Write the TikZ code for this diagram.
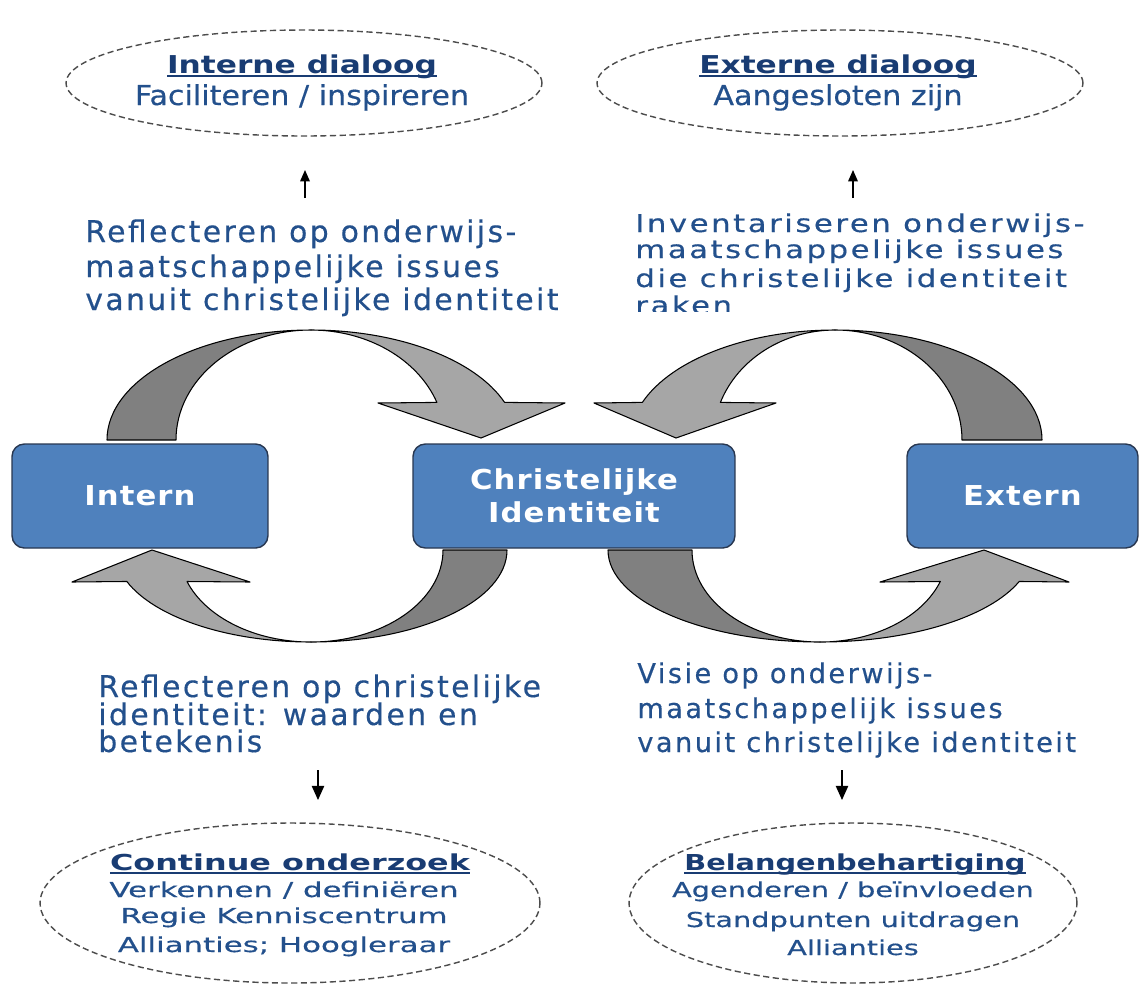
\documentclass[tikz,border=0pt]{standalone}
\usepackage{fontspec}
\setmainfont{DejaVu Sans}
\usetikzlibrary{shapes.geometric,arrows.meta}
\newfontfamily\fMid{DejaVu Sans}[LetterSpace=8,FakeBold=0.4]
\newfontfamily\fMidB{DejaVu Sans}[LetterSpace=9,FakeBold=0.4]
\newfontfamily\fMidC{DejaVu Sans}[FakeStretch=1.25,LetterSpace=10.3,FakeBold=0.4]
\newfontfamily\fTitle{DejaVu Sans}[FakeStretch=1.27]
\newfontfamily\fTitleL{DejaVu Sans}[FakeStretch=1.45]
\newfontfamily\fTitleR{DejaVu Sans}[FakeStretch=1.31]
\newfontfamily\fEll{DejaVu Sans}[FakeStretch=1.1,FakeBold=0.4]
\newfontfamily\fEllL{DejaVu Sans}[FakeStretch=1.5,FakeBold=0.4]
\newfontfamily\fEllR{DejaVu Sans}[FakeStretch=1.4,FakeBold=0.4]
\newfontfamily\fBox{DejaVu Sans}[FakeStretch=1.12,LetterSpace=4]
\definecolor{tblue}{RGB}{35,80,140}
\definecolor{hblue}{RGB}{25,60,115}
\definecolor{boxfill}{RGB}{79,129,189}
\definecolor{boxline}{RGB}{40,55,80}
\definecolor{gdark}{RGB}{128,128,128}
\definecolor{glight}{RGB}{166,166,166}
\newcommand\myul[1]{\setbox0=\hbox{#1}\rlap{\rule[-2pt]{\wd0}{1pt}}\box0}
\begin{document}
\begin{tikzpicture}[x=0.02cm,y=-0.02cm,
  box/.style={draw=boxline,fill=boxfill,rounded corners=7pt,line width=0.8pt,text=white,inner sep=0pt,align=center,
    font={\fBox\bfseries\fontsize{15.6pt}{18.8pt}\selectfont}},
  ell/.style={ellipse,draw=black!70,dash pattern=on 3.5pt off 2pt,line width=0.8pt,inner sep=0pt},
  band/.style={draw=black,line width=0.6pt,line join=round},
  smallarr/.style={-{Triangle[length=6.5pt,width=5.5pt]},line width=0.7pt},
  bigarr/.style={-{Triangle[length=8pt,width=7pt]},line width=0.7pt},
  mid/.style={anchor=base west,inner sep=0pt,text=tblue},
  etxt/.style={anchor=base,inner sep=0pt,text=tblue},
  ttl/.style={anchor=base,inner sep=0pt,text=hblue}]
\useasboundingbox (0,0) rectangle (1140,985);

% ---- ellipses ----
\node[ell,minimum width=9.52cm,minimum height=2.12cm] (eTL) at (304,83) {};
\node[ttl,font={\fTitle\bfseries\fontsize{14pt}{16pt}\selectfont}] (eTLt) at (302,73) {\myul{Interne dialoog}};
\node[etxt,font={\fEll\fontsize{15.6pt}{18pt}\selectfont}] (eTLb) at (302,105) {Faciliteren / inspireren};

\node[ell,minimum width=9.72cm,minimum height=2.12cm] (eTR) at (840,83) {};
\node[ttl,font={\fTitle\bfseries\fontsize{14pt}{16pt}\selectfont}] (eTRt) at (838,73) {\myul{Externe dialoog}};
\node[etxt,font={\fEll\fontsize{15.6pt}{18pt}\selectfont}] (eTRb) at (838,105) {Aangesloten zijn};

\node[ell,minimum width=10cm,minimum height=3.2cm] (eBL) at (290,903) {};
\node[ttl,font={\fTitleL\bfseries\fontsize{12.5pt}{14pt}\selectfont}] (eBLt) at (290,870) {\myul{Continue onderzoek}};
\node[etxt,font={\fEllL\fontsize{11.7pt}{14pt}\selectfont}] (eBL1) at (284,897) {Verkennen / definiëren};
\node[etxt,font={\fEllL\fontsize{11.7pt}{14pt}\selectfont}] (eBL2) at (284,923) {Regie Kenniscentrum};
\node[etxt,font={\fEllL\fontsize{11.7pt}{14pt}\selectfont}] (eBL3) at (284,952) {Allianties; Hoogleraar};

\node[ell,minimum width=8.96cm,minimum height=3.2cm] (eBR) at (853,903) {};
\node[ttl,font={\fTitleR\bfseries\fontsize{12.5pt}{14pt}\selectfont}] (eBRt) at (855,870) {\myul{Belangenbehartiging}};
\node[etxt,font={\fEllR\fontsize{11.7pt}{14pt}\selectfont}] (eBR1) at (853,897) {Agenderen / beïnvloeden};
\node[etxt,font={\fEllR\fontsize{11.7pt}{14pt}\selectfont}] (eBR2) at (853,927) {Standpunten uitdragen};
\node[etxt,font={\fEllR\fontsize{11.7pt}{14pt}\selectfont}] (eBR3) at (853,955) {Allianties};

% ---- small arrows ----
\coordinate (aTL0) at (305,198); \coordinate (aTL1) at (305,170);
\coordinate (aTR0) at (853,198); \coordinate (aTR1) at (853,170);
\coordinate (aBL0) at (318,770); \coordinate (aBL1) at (318,800);
\coordinate (aBR0) at (842,770); \coordinate (aBR1) at (842,800);
\draw[smallarr] (aTL0) -- (aTL1);
\draw[smallarr] (aTR0) -- (aTR1);
\draw[bigarr] (aBL0) -- (aBL1);
\draw[bigarr] (aBR0) -- (aBR1);

% ---- middle texts ----
\begin{scope}[every node/.append style={font={\fMid\fontsize{17pt}{20pt}\selectfont}}]
\node[mid] (mTL1) at (85,242) {Reflecteren op onderwijs-};
\node[mid] (mTL2) at (85,277) {maatschappelijke issues};
\node[mid] (mTL3) at (85,310) {vanuit christelijke identiteit};
\node[mid] (mBL1) at (98,697) {Reflecteren op christelijke};
\node[mid] (mBL2) at (98,725) {identiteit: waarden en};
\node[mid] (mBL3) at (98,752) {betekenis};
\end{scope}
\begin{scope}
\clip (600,190) rectangle (1140,311);
\begin{scope}[every node/.append style={font={\fMidC\fontsize{14pt}{15pt}\selectfont}}]
\node[mid] (mTR1) at (635,232) {Inventariseren onderwijs-};
\node[mid] (mTR2) at (635,258) {maatschappelijke issues};
\node[mid] (mTR3) at (635,287) {die christelijke  identiteit};
\node[mid] (mTR4) at (635,314) {raken};
\end{scope}
\end{scope}
\begin{scope}[every node/.append style={font={\fMidB\fontsize{15.5pt}{17pt}\selectfont}}]
\node[mid] (mBR1) at (637,683) {Visie op onderwijs-};
\node[mid] (mBR2) at (637,718) {maatschappelijk issues};
\node[mid] (mBR3) at (637,752) {vanuit christelijke  identiteit};
\end{scope}

% ---- curved arrows ----
% top left
\fill[gdark,band] (107,440) arc[start angle=180,end angle=270,x radius=204,y radius=110]
  arc[start angle=270,end angle=180,x radius=135,y radius=110] -- cycle;
\fill[glight,band] (311,330) arc[start angle=270,end angle=340,x radius=206,y radius=110]
  -- (565,403) -- (481,438) -- (378,403) -- (436.9,402.4)
  arc[start angle=340,end angle=270,x radius=134,y radius=110] -- cycle;
% bottom left
\fill[gdark,band] (507,550) arc[start angle=0,end angle=90,x radius=196,y radius=92]
  arc[start angle=90,end angle=0,x radius=132,y radius=92] -- cycle;
\fill[glight,band] (311,642) arc[start angle=90,end angle=160,x radius=196,y radius=92]
  -- (72,582) -- (152,550) -- (250,582) -- (187,581.5)
  arc[start angle=160,end angle=90,x radius=132,y radius=92] -- cycle;
% top right
\fill[gdark,band] (1042,440) arc[start angle=360,end angle=270,x radius=207,y radius=110]
  arc[start angle=270,end angle=360,x radius=127,y radius=110] -- cycle;
\fill[glight,band] (835,330) arc[start angle=270,end angle=200,x radius=205,y radius=110]
  -- (594,403) -- (676,438) -- (776,403) -- (720.4,402.4)
  arc[start angle=200,end angle=270,x radius=122,y radius=110] -- cycle;
% bottom right
\fill[gdark,band] (608,550) arc[start angle=180,end angle=90,x radius=212,y radius=92]
  arc[start angle=90,end angle=180,x radius=128,y radius=92] -- cycle;
\fill[glight,band] (820,642) arc[start angle=90,end angle=20,x radius=212,y radius=92]
  -- (1069,582) -- (984,550) -- (880,582) -- (940.3,581.5)
  arc[start angle=20,end angle=90,x radius=128,y radius=92] -- cycle;

% ---- boxes ----
\node[box,minimum width=5.12cm,minimum height=2.08cm] (intern) at (140,496) {Intern};
\node[box,minimum width=6.44cm,minimum height=2.08cm] (ci) at (574,496) {Christelijke\\Identiteit};
\node[box,minimum width=4.62cm,minimum height=2.08cm] (extern) at (1022.5,496) {Extern};
\end{tikzpicture}
\end{document}
